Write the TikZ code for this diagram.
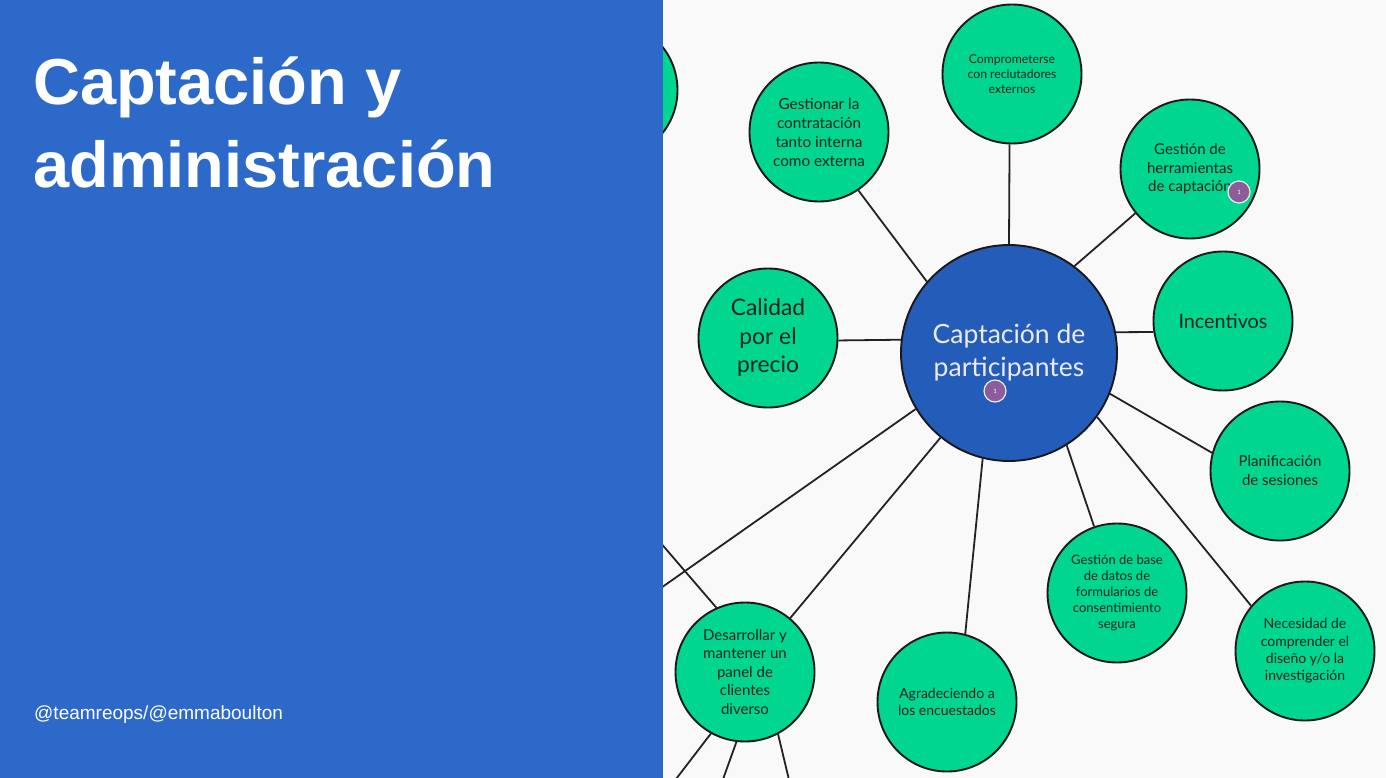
\documentclass[tikz,border=0pt]{standalone}
\usepackage{fontspec}
\setmainfont{Lato}
\newfontfamily\titlefont{Liberation Sans}
\definecolor{panelblue}{RGB}{45,105,201}
\definecolor{centerblue}{RGB}{35,92,185}
\definecolor{nodegreen}{RGB}{0,214,143}
\definecolor{nodetext}{RGB}{16,36,30}
\definecolor{bggray}{RGB}{249,249,249}
\definecolor{linegray}{RGB}{34,34,34}
\definecolor{badgepurple}{RGB}{140,92,155}
\begin{document}
\begin{tikzpicture}[x=1pt,y=-1pt,
  bub/.style={circle,draw=black!90,line width=1.9pt,fill=nodegreen,inner sep=0pt,minimum size=139pt,align=center,text=nodetext},
  hub/.style={circle,draw=black!90,line width=1.9pt,fill=centerblue,inner sep=0pt,minimum size=216pt,align=center,text=white!92!blue},
  link/.style={draw=linegray,line width=1.8pt},
  badge/.style={circle,fill=badgepurple,draw=white!85!gray,line width=1.2pt,minimum size=22pt,inner sep=0pt,text=white,font=\fontsize{6}{6}\selectfont}]
\useasboundingbox (0,0) rectangle (1386,778);
\clip (0,0) rectangle (1386,778);
\fill[bggray] (0,0) rectangle (1386,778);

% nodes
\node[hub,font=\fontsize{26.5}{33}\selectfont] (main) at (1009,353) {Captación de\\participantes};
\node[bub] (cut) at (608,90) {};
\node[bub,font=\fontsize{15.3}{19}\selectfont] (gest) at (819,132) {Gestionar la\\contratación\\tanto interna\\como externa};
\node[bub,font=\fontsize{12.2}{15}\selectfont] (comp) at (1012,74) {Comprometerse\\con reclutadores\\externos};
\node[bub,font=\fontsize{15}{18.5}\selectfont] (herr) at (1190,169) {Gestión de\\herramientas\\de captación};
\node[bub,font=\fontsize{19.8}{22}\selectfont] (inc) at (1223,321) {Incentivos};
\node[bub,font=\fontsize{22.8}{28.5}\selectfont] (cal) at (768,338) {Calidad\\por el\\precio};
\node[bub,font=\fontsize{15}{19}\selectfont] (plan) at (1280,471) {Planificación\\de sesiones};
\node[bub,font=\fontsize{13}{16}\selectfont] (base) at (1117,593) {Gestión de base\\de datos de\\formularios de\\consentimiento\\segura};
\node[bub,font=\fontsize{14}{17.3}\selectfont] (nec) at (1305,651) {Necesidad de\\comprender el\\diseño y/o la\\investigación};
\node[bub,font=\fontsize{14}{17}\selectfont] (agr) at (947,702) {Agradeciendo a\\los encuestados};
\node[bub,font=\fontsize{15}{18.5}\selectfont] (des) at (745,672) {Desarrollar y\\mantener un\\panel de\\clientes\\diverso};

% off-canvas ends
\coordinate (offA) at (537,675);
\coordinate (offB) at (610,484);
\coordinate (offC) at (650,813);
\coordinate (offD) at (713,807);
\coordinate (offE) at (795,805);

% connectors
\draw[link] (main.139) -- (gest.304.6);
\draw[link] (main.90) -- (comp.268);
\draw[link] (main.53.3) -- (herr.219.8);
\draw[link] (main.11.7) -- (inc.189.9);
\draw[link] (main.173.7) -- (cal.358.4);
\draw[link] (main.338.3) -- (plan.165);
\draw[link] (main.302.8) -- (base.109.7);
\draw[link] (main.324.8) -- (nec.140.8);
\draw[link] (main.256.9) -- (agr.75.6);
\draw[link] (main.231.7) -- (des.50.2);
\draw[link] (main.211.2) -- (offA);
\draw[link] (des.114) -- (offB);
\draw[link] (des.241) -- (offC);
\draw[link] (des.263.3) -- (offD);
\draw[link] (des.298.3) -- (offE);

% badges
\node[badge] (b1) at (995,391) {1};
\node[badge] (b2) at (1239,192) {1};

% left panel
\fill[panelblue] (0,0) rectangle (663,778);
\node[anchor=base west,inner sep=0pt,text=white,font=\titlefont\bfseries\fontsize{65}{83}\selectfont] (t1) at (33,105) {Captación y};
\node[anchor=base west,inner sep=0pt,text=white,font=\titlefont\bfseries\fontsize{65}{83}\selectfont] (t2) at (33,188) {administración};
\node[anchor=base west,inner sep=0pt,text=white,font=\titlefont\fontsize{19}{22}\selectfont] (foot) at (34,719) {@teamreops/@emmaboulton};
\end{tikzpicture}
\end{document}
